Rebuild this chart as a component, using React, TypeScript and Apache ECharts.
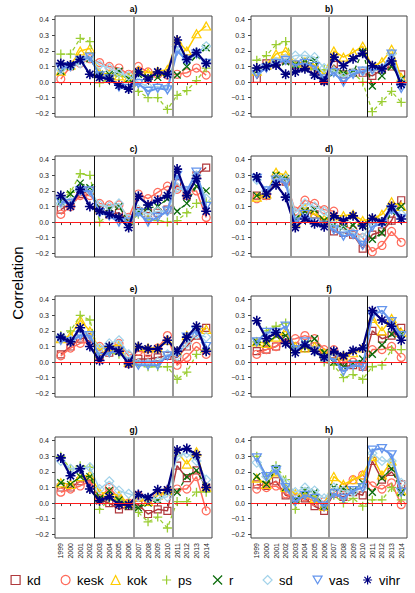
import React, { useEffect, useRef } from "react";
import * as echarts from "echarts";

// ---------- data ----------
const years = ["1999", "2000", "2001", "2002", "2003", "2004", "2005", "2006", "2007", "2008", "2009", "2010", "2011", "2012", "2013", "2014"];
const parties = ["kd", "kesk", "kok", "ps", "r", "sd", "vas", "vihr"];
const panelLabels = ["a)", "b)", "c)", "d)", "e)", "f)", "g)", "h)"];
const yTicks = [-0.2, -0.1, 0, 0.1, 0.2, 0.3, 0.4];
const breakPositions = [4.5, 8.5, 12.5];

// rows: kd, kesk, kok, ps, r, sd, vas, vihr (null = the panel's own party)
const corrA = [
  null,
  [0.02, 0.10, 0.12, 0.15, 0.125, 0.10, 0.09, 0.05, 0.10, 0.065, 0.05, 0.045, 0.05, 0.06, 0.09, 0.045],
  [0.07, 0.11, 0.20, 0.215, 0.06, 0.05, 0.04, 0.03, 0.075, 0.06, 0.07, 0.08, 0.27, 0.20, 0.31, 0.36],
  [0.18, 0.18, 0.28, 0.26, -0.005, 0.02, 0.04, 0.03, -0.06, -0.10, -0.10, -0.175, -0.085, -0.055, 0.01, 0.09],
  [0.07, 0.10, 0.14, 0.15, 0.05, 0.05, 0.07, 0.02, 0.05, 0.03, 0.03, 0.05, 0.045, 0.10, 0.17, 0.22],
  [0.08, 0.10, 0.12, 0.16, 0.11, 0.09, 0.06, 0.04, 0.00, -0.03, -0.03, -0.04, 0.22, 0.14, 0.19, 0.23],
  [0.09, 0.10, 0.14, 0.16, 0.04, 0.02, -0.03, -0.04, -0.01, -0.06, -0.04, -0.05, 0.20, 0.14, 0.18, 0.12],
  [0.12, 0.11, 0.145, 0.05, 0.03, 0.02, -0.02, -0.045, 0.065, 0.02, 0.065, 0.05, 0.27, 0.145, 0.19, 0.12],
];
const corrB = [
  [0.02, 0.12, 0.12, 0.14, 0.11, 0.10, 0.08, 0.01, 0.11, 0.05, 0.06, 0.06, 0.04, 0.08, 0.10, 0.05],
  null,
  [0.07, 0.11, 0.18, 0.20, 0.12, 0.13, 0.11, 0.05, 0.20, 0.16, 0.19, 0.23, 0.10, 0.13, 0.21, 0.03],
  [0.14, 0.17, 0.24, 0.26, 0.10, 0.09, 0.08, 0.08, 0.08, 0.06, 0.06, 0.00, -0.19, -0.125, -0.06, -0.13],
  [0.07, 0.10, 0.12, 0.13, 0.11, 0.14, 0.14, 0.01, 0.06, 0.055, 0.06, 0.195, -0.025, 0.04, 0.10, 0.02],
  [0.06, 0.10, 0.13, 0.15, 0.17, 0.17, 0.16, 0.09, 0.07, 0.03, 0.06, 0.07, 0.08, 0.09, 0.18, 0.00],
  [0.05, 0.09, 0.12, 0.14, 0.11, 0.12, 0.10, 0.02, 0.06, 0.00, 0.05, 0.07, 0.08, 0.08, 0.18, -0.04],
  [0.09, 0.10, 0.11, 0.05, 0.065, 0.085, 0.045, 0.005, 0.16, 0.105, 0.15, 0.185, 0.105, 0.085, 0.135, -0.015],
];
const corrC = [
  [0.08, 0.12, 0.18, 0.20, 0.08, 0.05, 0.06, 0.01, 0.07, 0.06, 0.06, 0.08, 0.25, 0.17, 0.30, 0.35],
  [0.05, 0.10, 0.17, 0.17, 0.12, 0.11, 0.11, 0.03, 0.18, 0.15, 0.19, 0.23, 0.21, 0.20, 0.20, 0.03],
  null,
  [0.15, 0.19, 0.31, 0.30, 0.00, 0.05, 0.03, -0.01, 0.05, 0.02, 0.01, 0.00, 0.01, 0.06, 0.12, 0.13],
  [0.13, 0.18, 0.25, 0.22, 0.08, 0.09, 0.10, 0.00, 0.07, 0.09, 0.10, 0.15, 0.07, 0.12, 0.23, 0.20],
  [0.12, 0.13, 0.20, 0.20, 0.11, 0.10, 0.12, 0.02, 0.08, 0.05, 0.07, 0.07, 0.22, 0.20, 0.30, 0.15],
  [0.13, 0.12, 0.20, 0.20, 0.06, 0.04, 0.00, 0.00, 0.06, 0.00, 0.03, 0.07, 0.30, 0.20, 0.32, 0.10],
  [0.17, 0.10, 0.21, 0.10, 0.07, 0.05, 0.03, -0.035, 0.165, 0.11, 0.14, 0.17, 0.34, 0.17, 0.28, 0.07],
];
const corrD = [
  [0.17, 0.17, 0.26, 0.26, 0.02, 0.07, 0.05, 0.00, -0.06, -0.07, -0.08, -0.17, -0.08, -0.06, 0.01, 0.14],
  [0.15, 0.17, 0.28, 0.27, 0.07, 0.14, 0.12, 0.08, 0.07, -0.02, -0.05, -0.10, -0.19, -0.15, -0.06, -0.13],
  [0.16, 0.18, 0.32, 0.30, 0.00, 0.09, 0.05, 0.02, 0.04, 0.04, 0.05, 0.01, 0.02, 0.05, 0.13, 0.10],
  null,
  [0.17, 0.18, 0.30, 0.28, 0.02, 0.07, 0.08, 0.01, -0.02, -0.03, -0.02, -0.02, -0.11, -0.07, 0.07, 0.10],
  [0.27, 0.20, 0.28, 0.28, 0.06, 0.12, 0.10, 0.07, -0.02, -0.05, -0.07, -0.10, 0.00, 0.00, 0.08, 0.05],
  [0.28, 0.20, 0.27, 0.25, 0.00, 0.05, 0.00, -0.02, -0.05, -0.09, -0.08, -0.15, -0.03, -0.01, 0.08, 0.02],
  [0.29, 0.18, 0.24, 0.16, -0.035, 0.02, -0.01, -0.03, 0.04, 0.01, 0.04, -0.025, 0.025, 0.00, 0.10, 0.02],
];
const corrE = [
  [0.05, 0.10, 0.15, 0.16, 0.04, 0.06, 0.08, -0.01, 0.02, 0.02, 0.03, 0.04, 0.03, 0.10, 0.17, 0.22],
  [0.04, 0.09, 0.12, 0.13, 0.10, 0.09, 0.12, 0.04, 0.07, 0.06, 0.09, 0.17, -0.02, 0.03, 0.10, 0.05],
  [0.15, 0.17, 0.27, 0.20, 0.08, 0.10, 0.11, 0.00, 0.10, 0.09, 0.09, 0.14, 0.07, 0.17, 0.22, 0.21],
  [0.17, 0.20, 0.30, 0.27, 0.03, 0.06, 0.05, 0.00, -0.01, -0.03, -0.03, -0.03, -0.11, -0.065, 0.05, 0.08],
  null,
  [0.16, 0.14, 0.18, 0.17, 0.09, 0.12, 0.14, 0.05, -0.01, -0.01, 0.00, 0.05, 0.04, 0.12, 0.18, 0.16],
  [0.14, 0.13, 0.17, 0.17, 0.03, 0.06, 0.07, 0.00, -0.02, -0.02, -0.02, 0.04, 0.06, 0.16, 0.20, 0.10],
  [0.16, 0.13, 0.22, 0.10, 0.01, 0.10, 0.07, -0.01, 0.10, 0.085, 0.085, 0.14, 0.07, 0.16, 0.23, 0.07],
];
const corrF = [
  [0.07, 0.08, 0.10, 0.15, 0.10, 0.09, 0.10, 0.04, 0.05, -0.03, -0.02, -0.03, 0.20, 0.15, 0.17, 0.22],
  [0.05, 0.08, 0.10, 0.14, 0.15, 0.17, 0.15, 0.08, 0.08, 0.00, 0.00, -0.02, 0.08, 0.08, 0.10, 0.03],
  [0.13, 0.12, 0.16, 0.20, 0.10, 0.09, 0.10, 0.06, 0.05, 0.04, 0.06, 0.09, 0.28, 0.20, 0.28, 0.19],
  [0.13, 0.20, 0.23, 0.25, 0.08, 0.09, 0.07, 0.00, -0.02, -0.10, -0.08, -0.11, -0.03, -0.02, 0.08, 0.08],
  [0.13, 0.12, 0.17, 0.17, 0.08, 0.12, 0.15, 0.06, 0.00, -0.03, -0.01, 0.02, 0.05, 0.11, 0.18, 0.18],
  null,
  [0.13, 0.19, 0.19, 0.23, 0.08, 0.13, 0.07, 0.02, 0.02, -0.06, -0.02, -0.03, 0.30, 0.33, 0.26, 0.17],
  [0.265, 0.15, 0.19, 0.12, 0.06, 0.11, 0.07, 0.03, 0.07, 0.04, 0.075, 0.09, 0.33, 0.27, 0.23, 0.14],
];
const corrG = [
  [0.10, 0.10, 0.14, 0.15, 0.02, 0.00, -0.04, -0.02, -0.01, -0.07, -0.04, -0.05, 0.24, 0.16, 0.21, 0.10],
  [0.07, 0.09, 0.11, 0.14, 0.03, 0.10, 0.03, 0.00, 0.05, 0.02, 0.05, 0.08, 0.09, 0.09, 0.17, -0.05],
  [0.13, 0.12, 0.17, 0.18, 0.07, 0.06, 0.05, 0.00, 0.04, 0.01, 0.05, 0.08, 0.33, 0.25, 0.33, 0.10],
  [0.30, 0.22, 0.24, 0.23, -0.04, 0.02, 0.02, 0.00, -0.06, -0.12, -0.09, -0.16, 0.01, 0.01, 0.07, 0.07],
  [0.13, 0.12, 0.17, 0.17, 0.03, 0.08, 0.02, -0.02, -0.03, 0.00, 0.02, 0.07, 0.07, 0.17, 0.21, 0.10],
  [0.27, 0.22, 0.22, 0.23, 0.09, 0.14, 0.08, 0.06, 0.04, 0.03, 0.03, 0.04, 0.30, 0.32, 0.27, 0.15],
  null,
  [0.29, 0.175, 0.22, 0.09, 0.015, 0.04, -0.01, -0.01, 0.055, 0.035, 0.085, 0.085, 0.34, 0.35, 0.31, 0.10],
];
const corrH = [
  [0.12, 0.11, 0.14, 0.05, 0.03, 0.03, -0.02, -0.05, 0.06, 0.04, 0.07, 0.05, 0.27, 0.15, 0.20, 0.12],
  [0.09, 0.10, 0.11, 0.06, 0.03, 0.04, 0.01, 0.01, 0.07, 0.10, 0.15, 0.18, 0.11, 0.09, 0.13, -0.01],
  [0.16, 0.12, 0.20, 0.10, 0.06, 0.06, 0.03, -0.02, 0.17, 0.12, 0.15, 0.18, 0.30, 0.18, 0.27, 0.08],
  [0.30, 0.17, 0.24, 0.15, -0.04, 0.07, 0.04, -0.02, 0.05, 0.00, 0.03, -0.02, 0.02, 0.02, 0.10, 0.02],
  [0.17, 0.12, 0.22, 0.10, 0.02, 0.08, 0.07, -0.02, 0.10, 0.09, 0.08, 0.13, 0.07, 0.16, 0.22, 0.07],
  [0.26, 0.17, 0.22, 0.13, 0.07, 0.10, 0.08, 0.03, 0.10, 0.08, 0.07, 0.10, 0.32, 0.27, 0.27, 0.13],
  [0.29, 0.17, 0.21, 0.10, 0.01, 0.05, 0.03, -0.02, 0.06, 0.03, 0.08, 0.10, 0.34, 0.35, 0.31, 0.07],
  null,
];
const panels = [corrA, corrB, corrC, corrD, corrE, corrF, corrG, corrH];

// ---------- styles ----------
const FONT = "'Liberation Sans', Arial, Helvetica, sans-serif";
const partyStyle: Record<string, any> = {
  kd: { color: "#b0393d", symbol: "rect", size: 7, width: 1.5, type: "solid", bw: 1.2 },
  kesk: { color: "#ff6b5b", symbol: "circle", size: 8, width: 1.5, type: "solid", bw: 1.2 },
  kok: { color: "#ffcc00", symbol: "triangle", size: [9, 8], width: 1.5, type: "solid", bw: 1.2 },
  ps: { color: "#9acd32", symbol: "path://M5 0V10M0 5H10", size: 9, width: 1.3, type: [4, 3], bw: 1.3 },
  r: { color: "#0b6b0b", symbol: "path://M0 0L10 10M10 0L0 10", size: 7, width: 1.3, type: [4, 3], bw: 1.3 },
  sd: { color: "#a3d3ea", symbol: "diamond", size: 9, width: 1.5, type: "solid", bw: 1.2 },
  vas: { color: "#6495ed", symbol: "path://M0 0H10L5 8.66Z", size: [9, 8], width: 2, type: "solid", bw: 1.3 },
  vihr: { color: "#000080", symbol: "path://M5 0V10M0 5H10M1.46 1.46L8.54 8.54M8.54 1.46L1.46 8.54", size: 10, width: 2.2, type: "solid", bw: 1.6 },
};
const BLACK = { color: "#111111", width: 1 };
const GRAY = { color: "#9a9a9a", width: 2 };
const panelBreakStyles = [
  [BLACK, GRAY, GRAY], [GRAY, GRAY, BLACK],
  [BLACK, GRAY, GRAY], [GRAY, GRAY, BLACK],
  [BLACK, GRAY, GRAY], [BLACK, GRAY, BLACK],
  [BLACK, GRAY, GRAY], [GRAY, GRAY, BLACK],
];
const colLeft = [55, 251];
const colWidth = [157, 156];
const rowTop = [16, 156, 296, 437];
const plotHeight = 101;
const legendCenters = [15, 65, 115, 166, 217, 267, 317, 367];

const fmtY = (v: number) => (v < 0 ? "\u2212" : "") + Math.abs(v).toFixed(1);

function buildOption() {
  const grid: any[] = [];
  const xAxis: any[] = [];
  const yAxis: any[] = [];
  const series: any[] = [];
  const graphic: any[] = [];
  const tickIdx = years.map((_, i) => i + 1);

  panels.forEach((panel, p) => {
    const row = Math.floor(p / 2);
    const col = p % 2;
    const left = colLeft[col];
    const width = colWidth[col];
    const top = rowTop[row];
    grid.push({ left, top, width, height: plotHeight, show: true, borderColor: "#444", borderWidth: 1, backgroundColor: "transparent", containLabel: false });
    const bottomRow = row === 3;
    xAxis.push({
      type: "value", gridIndex: p, min: 0.4, max: 16.6,
      axisLine: { show: false }, splitLine: { show: false },
      axisTick: { show: true, length: 3, customValues: tickIdx, lineStyle: { color: "#444", width: 1 } },
      axisLabel: {
        show: bottomRow, customValues: tickIdx, rotate: 90, fontSize: 7, color: "#222", margin: 5, fontFamily: FONT,
        formatter: (v: number) => years[Math.round(v) - 1] || "",
      },
    });
    yAxis.push({
      type: "value", gridIndex: p, min: -0.224, max: 0.424,
      axisLine: { show: false }, splitLine: { show: false },
      axisTick: { show: true, length: 3, customValues: yTicks, lineStyle: { color: "#444", width: 1 } },
      axisLabel: { show: true, customValues: yTicks, fontSize: 7, color: "#222", margin: 6, fontFamily: FONT, formatter: fmtY },
    });

    let first = true;
    panel.forEach((vals, k) => {
      if (!vals) return;
      const name = parties[k];
      const st = partyStyle[name];
      const s: any = {
        type: "line", name, xAxisIndex: p, yAxisIndex: p,
        data: vals.map((v, i) => [i + 1, v]),
        symbol: st.symbol, symbolSize: st.size, showAllSymbol: true,
        itemStyle: { color: "rgba(0,0,0,0)", borderColor: st.color, borderWidth: st.bw },
        lineStyle: { color: st.color, width: st.width, type: st.type },
        emphasis: { disabled: true }, silent: true, z: 2 + k * 0.1,
      };
      if (first) {
        first = false;
        s.markLine = {
          silent: true, symbol: ["none", "none"], label: { show: false }, animation: false,
          emphasis: { disabled: true },
          data: [
            { yAxis: 0, lineStyle: { color: "#ff1a1a", width: 1, type: "solid" } },
            ...breakPositions.map((x, j) => ({ xAxis: x, lineStyle: { color: panelBreakStyles[p][j].color, width: panelBreakStyles[p][j].width, type: "solid" } })),
          ],
        };
      }
      series.push(s);
    });

    graphic.push({
      type: "text", x: left + width / 2, y: top - 7.5, silent: true,
      style: { text: panelLabels[p], fontSize: 8.5, fontWeight: "bold", fill: "#000", align: "center", verticalAlign: "middle", fontFamily: FONT },
    });
  });

  graphic.push({
    type: "text", x: 17.5, y: 283, rotation: Math.PI / 2, silent: true,
    style: { text: "Correlation", fontSize: 15, fill: "#000", align: "center", verticalAlign: "middle", fontFamily: FONT },
  });

  const legend = parties.map((name, i) => {
    const st = partyStyle[name];
    return {
      data: [name], left: legendCenters[i] - 4.5, top: 578 - 4.5, padding: 0,
      itemWidth: 9, itemHeight: 9, icon: st.symbol, selectedMode: false,
      itemStyle: { color: "rgba(0,0,0,0)", borderColor: st.color, borderWidth: 1.2 },
      lineStyle: { width: 0 },
      textStyle: { fontSize: 13, color: "#000", fontFamily: FONT, padding: [0, 0, 0, 2] },
    };
  });

  return {
    animation: false,
    backgroundColor: "#ffffff",
    grid, xAxis, yAxis, series, graphic, legend,
  };
}

export default function App() {
  const ref = useRef<HTMLDivElement>(null);
  useEffect(() => {
    if (!ref.current) return;
    const chart = echarts.init(ref.current, undefined, { renderer: "svg" });
    chart.setOption(buildOption() as any);
    return () => chart.dispose();
  }, []);
  return <div ref={ref} style={{ position: "absolute", left: 0, top: 0, width: 415, height: 593 }} />;
}
